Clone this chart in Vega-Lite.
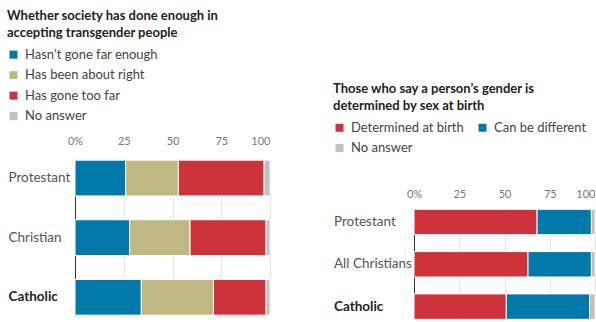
{
  "$schema": "https://vega.github.io/schema/vega-lite/v6.json",
  "padding": {"top": 10, "left": 7, "right": 1, "bottom": 0},
  "autosize": {"type": "pad"},
  "center": true,
  "config": {
    "font": "Lato",
    "view": {"stroke": null},
    "concat": {"spacing": 62},
    "legend": {
      "orient": "none",
      "titleFontSize": 13,
      "titleFontWeight": "bold",
      "titleColor": "#222222",
      "titleLimit": 400,
      "titlePadding": 8,
      "titleLineHeight": 17,
      "symbolType": "square",
      "symbolSize": 64,
      "symbolStrokeWidth": 0,
      "labelFontSize": 13,
      "labelColor": "#444444",
      "labelOffset": 5,
      "labelLimit": 300,
      "rowPadding": 6.5,
      "columnPadding": 12
    }
  },
  "datasets": {
    "society": [
      {"group": "Protestant", "answer": "Hasn’t gone far enough", "rank": 1, "pct": 26},
      {"group": "Protestant", "answer": "Has been about right", "rank": 2, "pct": 27},
      {"group": "Protestant", "answer": "Has gone too far", "rank": 3, "pct": 44},
      {"group": "Protestant", "answer": "No answer", "rank": 4, "pct": 3},
      {"group": "Christian", "answer": "Hasn’t gone far enough", "rank": 1, "pct": 28},
      {"group": "Christian", "answer": "Has been about right", "rank": 2, "pct": 31},
      {"group": "Christian", "answer": "Has gone too far", "rank": 3, "pct": 39},
      {"group": "Christian", "answer": "No answer", "rank": 4, "pct": 2},
      {"group": "Catholic", "answer": "Hasn’t gone far enough", "rank": 1, "pct": 34},
      {"group": "Catholic", "answer": "Has been about right", "rank": 2, "pct": 37},
      {"group": "Catholic", "answer": "Has gone too far", "rank": 3, "pct": 27},
      {"group": "Catholic", "answer": "No answer", "rank": 4, "pct": 2}
    ],
    "gender": [
      {"group": "Protestant", "answer": "Determined at birth", "rank": 1, "pct": 68},
      {"group": "Protestant", "answer": "Can be different", "rank": 2, "pct": 30},
      {"group": "Protestant", "answer": "No answer", "rank": 3, "pct": 2},
      {"group": "All Christians", "answer": "Determined at birth", "rank": 1, "pct": 63},
      {"group": "All Christians", "answer": "Can be different", "rank": 2, "pct": 35},
      {"group": "All Christians", "answer": "No answer", "rank": 3, "pct": 2},
      {"group": "Catholic", "answer": "Determined at birth", "rank": 1, "pct": 51},
      {"group": "Catholic", "answer": "Can be different", "rank": 2, "pct": 46},
      {"group": "Catholic", "answer": "No answer", "rank": 3, "pct": 3}
    ]
  },
  "hconcat": [
    {
      "data": {"name": "society"},
      "width": 195,
      "height": 225.7,
      "mark": {"type": "bar", "stroke": "white", "strokeWidth": 1},
      "encoding": {
        "y": {
          "field": "group", "type": "nominal",
          "sort": ["Protestant", "Christian", "Catholic"],
          "scale": {"range": [11, 166], "paddingInner": 0.4, "paddingOuter": 0},
          "axis": {
            "title": null, "domain": true, "domainColor": "#333333", "ticks": false, "tickSize": 0, "grid": false,
            "labelAlign": "left", "labelPadding": 67, "labelFontSize": 13.5,
            "labelColor": {"condition": {"test": "datum.value === 'Catholic'", "value": "#222222"}, "value": "#555555"},
            "labelFontWeight": {"condition": {"test": "datum.value === 'Catholic'", "value": "bold"}, "value": "normal"}
          }
        },
        "x": {
          "field": "pct", "type": "quantitative", "stack": "zero",
          "scale": {"domain": [0, 100]},
          "axis": {
            "orient": "top", "title": null, "values": [0, 25, 50, 75, 100], "domain": false, "ticks": false, "tickSize": 0,
            "labelFlush": false, "labelPadding": 2.5, "labelFontSize": 11, "labelColor": "#777777", "gridColor": "#e4e4e4",
            "labelExpr": "datum.value === 0 ? '0%' : datum.label",
            "labelAlign": {"condition": {"test": "datum.value === 100", "value": "right"}, "value": "center"}
          }
        },
        "order": {"field": "rank", "type": "quantitative", "sort": "ascending"},
        "color": {
          "field": "answer", "type": "nominal",
          "sort": ["Hasn’t gone far enough", "Has been about right", "Has gone too far", "No answer"],
          "scale": {
            "domain": ["Hasn’t gone far enough", "Has been about right", "Has gone too far", "No answer"],
            "range": ["#0078AA", "#BFB882", "#CE323B", "#BFBFBF"]
          },
          "legend": {
            "legendX": -68, "legendY": -139,
            "title": ["Whether society has done enough in", "accepting transgender people"],
            "columns": 1, "direction": "vertical"
          }
        }
      }
    },
    {
      "data": {"name": "gender"},
      "width": 181,
      "height": 120,
      "mark": {"type": "bar", "stroke": "white", "strokeWidth": 1},
      "encoding": {
        "y": {
          "field": "group", "type": "nominal",
          "sort": ["Protestant", "All Christians", "Catholic"],
          "scale": {"range": [7.3, 117.3], "paddingInner": 0.4, "paddingOuter": 0},
          "axis": {
            "title": null, "domain": true, "domainColor": "#333333", "ticks": false, "tickSize": 0, "grid": false,
            "labelAlign": "left", "labelPadding": 80.5, "labelFontSize": 13.5,
            "labelColor": {"condition": {"test": "datum.value === 'Catholic'", "value": "#222222"}, "value": "#555555"},
            "labelFontWeight": {"condition": {"test": "datum.value === 'Catholic'", "value": "bold"}, "value": "normal"}
          }
        },
        "x": {
          "field": "pct", "type": "quantitative", "stack": "zero",
          "scale": {"domain": [0, 100]},
          "axis": {
            "orient": "top", "title": null, "values": [0, 25, 50, 75, 100], "domain": false, "ticks": false, "tickSize": 0,
            "labelFlush": false, "labelPadding": 2.5, "labelFontSize": 11, "labelColor": "#777777", "gridColor": "#e4e4e4",
            "labelExpr": "datum.value === 0 ? '0%' : datum.label",
            "labelAlign": {"condition": {"test": "datum.value === 100", "value": "right"}, "value": "center"}
          }
        },
        "order": {"field": "rank", "type": "quantitative", "sort": "ascending"},
        "color": {
          "field": "answer", "type": "nominal",
          "sort": ["Determined at birth", "Can be different", "No answer"],
          "scale": {
            "domain": ["Determined at birth", "Can be different", "No answer"],
            "range": ["#CE323B", "#0078AA", "#BFBFBF"]
          },
          "legend": {
            "legendX": -81, "legendY": -118.7,
            "title": ["Those who say a person’s gender is", "determined by sex at birth"],
            "titleLineHeight": 16.7,
            "columns": 2, "direction": "horizontal"
          }
        }
      }
    }
  ],
  "resolve": {
    "scale": {"color": "independent", "x": "independent", "y": "independent"},
    "legend": {"color": "independent"}
  }
}
